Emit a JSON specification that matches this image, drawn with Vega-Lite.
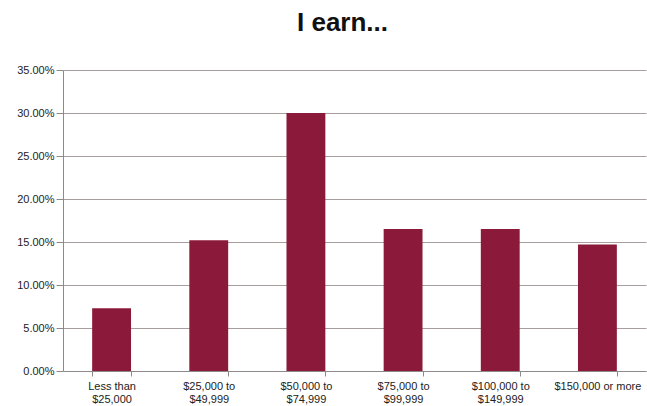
{
  "$schema": "https://vega.github.io/schema/vega-lite/v6.json",
  "width": 583,
  "height": 301,
  "autosize": "none",
  "padding": {"left": 63, "top": 70, "right": 1, "bottom": 35},
  "background": "white",
  "title": {
    "text": "I earn...",
    "font": "Liberation Sans",
    "fontSize": 26,
    "fontWeight": "bold",
    "color": "#111111",
    "anchor": "middle",
    "dx": -12,
    "offset": 28
  },
  "data": {
    "values": [
      {"income": "Less than\n$25,000", "share": 0.073},
      {"income": "$25,000 to\n$49,999", "share": 0.152},
      {"income": "$50,000 to\n$74,999", "share": 0.300},
      {"income": "$75,000 to\n$99,999", "share": 0.165},
      {"income": "$100,000 to\n$149,999", "share": 0.165},
      {"income": "$150,000 or more", "share": 0.147}
    ]
  },
  "mark": {"type": "bar", "color": "#8B1A3A"},
  "encoding": {
    "x": {
      "field": "income",
      "type": "nominal",
      "sort": null,
      "scale": {"paddingInner": 0.6, "paddingOuter": 0.3},
      "axis": {
        "title": null,
        "labelAngle": 0,
        "labelExpr": "isString(datum.value) ? split(datum.value, '\\n') : ''",
        "labelFont": "Liberation Sans",
        "labelFontSize": 11,
        "labelColor": "#222222",
        "labelLineHeight": 13,
        "labelPadding": 4,
        "tickBand": "extent",
        "tickSize": 5,
        "tickColor": "#8f8a8a",
        "domainColor": "#8f8a8a",
        "grid": false
      }
    },
    "y": {
      "field": "share",
      "type": "quantitative",
      "scale": {"domain": [0, 0.35], "nice": false},
      "axis": {
        "title": null,
        "format": ".2%",
        "values": [0, 0.05, 0.1, 0.15, 0.2, 0.25, 0.3, 0.35],
        "labelFont": "Liberation Sans",
        "labelFontSize": 11,
        "labelColor": "#222222",
        "labelPadding": 2,
        "tickSize": 7,
        "tickColor": "#8f8a8a",
        "domainColor": "#8f8a8a",
        "gridColor": "#a89e9e",
        "gridWidth": 1.2,
        "gridOpacity": 1
      }
    }
  },
  "config": {"view": {"stroke": null}}
}
